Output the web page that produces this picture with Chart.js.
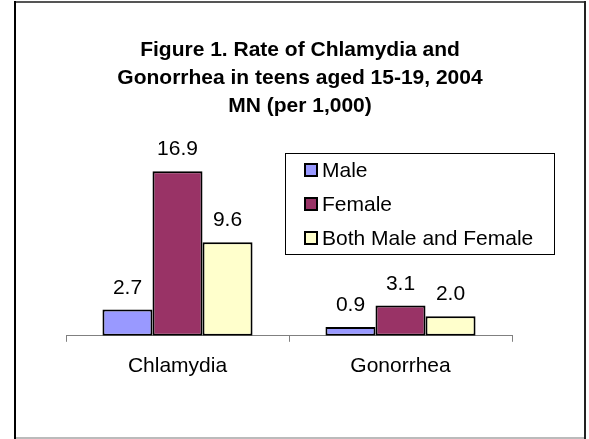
<!DOCTYPE html>
<html>
<head>
<meta charset="utf-8">
<script src="https://cdn.jsdelivr.net/npm/chart.js@4/dist/chart.umd.min.js"></script>
<style>
  body { margin: 0; background: #fff; }
  canvas { display: block; }
</style>
</head>
<body>
<canvas id="chart" width="589" height="439"></canvas>
<script>
// Chart values
const categories = ["Chlamydia", "Gonorrhea"];
const seriesNames = ["Male", "Female", "Both Male and Female"];
const maleRates = [2.7, 0.9];
const femaleRates = [16.9, 3.1];
const bothRates = [9.6, 2.0];
const titleLines = [
  "Figure 1. Rate of Chlamydia and",
  "Gonorrhea in teens aged 15-19, 2004",
  "MN (per 1,000)",
];
// Excel style fill colours for each series
const seriesColors = ["#9999FF", "#993366", "#FFFFCC"];

const FONT = "Arial, 'Liberation Sans', sans-serif";

// Outer frame round the whole chart object
const framePlugin = {
  id: "frame",
  afterDraw(chart) {
    const ctx = chart.ctx;
    ctx.save();
    ctx.fillStyle = "#555";
    ctx.fillRect(14, 1, 572, 2);
    ctx.fillStyle = "#000";
    ctx.fillRect(14, 1, 2, 438);
    ctx.fillStyle = "#222";
    ctx.fillRect(584, 1, 2, 438);
    ctx.fillStyle = "#bbb";
    ctx.fillRect(16, 437, 568, 2);
    ctx.restore();
  },
};

// Value labels above each bar
const valueLabels = {
  id: "valueLabels",
  afterDatasetsDraw(chart) {
    const ctx = chart.ctx;
    ctx.save();
    ctx.font = "21px " + FONT;
    ctx.fillStyle = "#000";
    ctx.textAlign = "center";
    ctx.textBaseline = "alphabetic";
    chart.data.datasets.forEach((ds, i) => {
      chart.getDatasetMeta(i).data.forEach((bar, j) => {
        ctx.fillText(ds.data[j].toFixed(1), bar.x, bar.y - 16);
      });
    });
    ctx.restore();
  },
};

// Boxed legend that sits over the plot, like the Excel one
const boxLegend = {
  id: "boxLegend",
  afterDraw(chart) {
    const ctx = chart.ctx;
    const x = 285, y = 153, w = 269, h = 101;
    ctx.save();
    ctx.fillStyle = "#fff";
    ctx.fillRect(x, y, w, h);
    ctx.strokeStyle = "#000";
    ctx.lineWidth = 1;
    ctx.strokeRect(x + 0.5, y + 0.5, w, h);
    ctx.font = "21px " + FONT;
    ctx.textBaseline = "middle";
    ctx.textAlign = "left";
    chart.data.datasets.forEach((ds, i) => {
      const cy = 170 + i * 34;
      ctx.fillStyle = ds.backgroundColor;
      ctx.fillRect(305, cy - 6, 12, 12);
      ctx.lineWidth = 2;
      ctx.strokeStyle = "#000";
      ctx.strokeRect(305, cy - 6, 12, 12);
      ctx.fillStyle = "#000";
      ctx.fillText(ds.label, 322, cy + 1);
    });
    ctx.restore();
  },
};

const datasets = [maleRates, femaleRates, bothRates].map((vals, i) => ({
  label: seriesNames[i],
  data: vals,
  backgroundColor: seriesColors[i],
  borderColor: "#000",
  borderWidth: 2,
  borderSkipped: false,
  barPercentage: 1,
  categoryPercentage: 0.673,
}));

new Chart(document.getElementById("chart"), {
  type: "bar",
  data: { labels: categories, datasets: datasets },
  plugins: [valueLabels, boxLegend, framePlugin],
  options: {
    responsive: false,
    animation: false,
    layout: { padding: { left: 66, right: 55, top: 0, bottom: 48 } },
    plugins: {
      legend: { display: false },
      tooltip: { enabled: false },
      title: {
        display: true,
        text: titleLines,
        color: "#000",
        font: { family: FONT, size: 21, weight: "bold", lineHeight: 28 / 21 },
        padding: { top: 36, bottom: 21 },
      },
    },
    scales: {
      x: {
        grid: {
          offset: true,
          drawOnChartArea: false,
          tickLength: 6,
          color: "#808080",
        },
        border: { color: "#808080" },
        ticks: {
          color: "#000",
          padding: 12,
          font: { family: FONT, size: 21 },
        },
      },
      y: {
        position: "right",
        min: 0,
        max: 20,
        grid: { display: false },
        border: { display: false },
        ticks: { display: false },
        afterFit: (scale) => { scale.width = 22; },
      },
    },
  },
});
</script>
</body>
</html>
